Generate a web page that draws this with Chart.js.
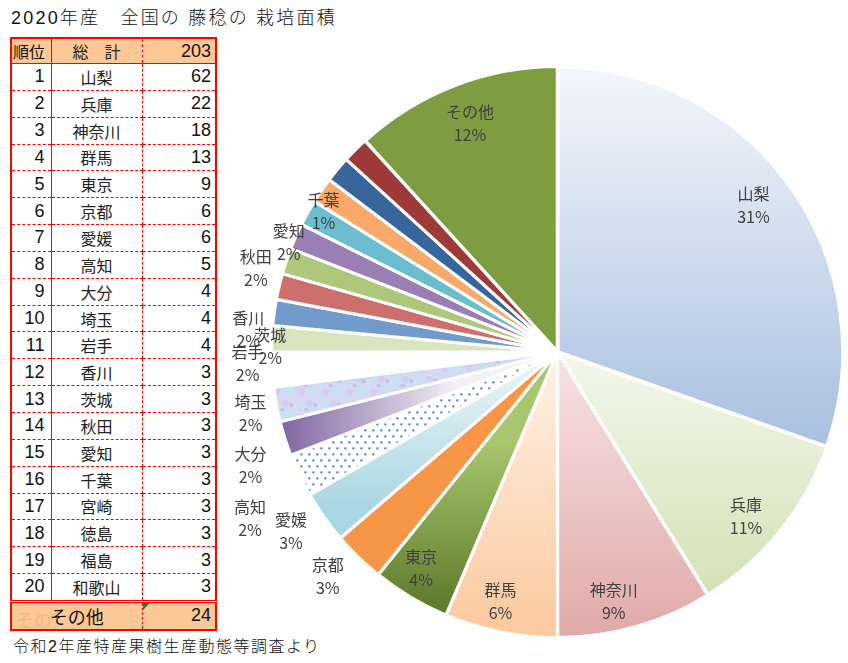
<!DOCTYPE html>
<html>
<head>
<meta charset="utf-8">
<script src="https://cdn.jsdelivr.net/npm/chart.js@4.4.1/dist/chart.umd.min.js"></script>
<style>
  body { margin: 0; background: #fff; width: 848px; height: 663px; overflow: hidden; position: relative;
         font-family: "Liberation Sans", "Noto Sans CJK JP", sans-serif; color: #111; }
  #title { position: absolute; left: 11px; top: 3px; font-size: 18px; letter-spacing: 2.2px; font-weight: 300; }
  #source { position: absolute; left: 13px; top: 633px; font-size: 16px; letter-spacing: 1.5px; font-weight: 300; }
  #tbl { position: absolute; left: 10px; top: 37px; border-collapse: collapse; border: 2px solid #f00; table-layout: fixed; }
  #tbl td { border-bottom: 1px dashed #f00; padding: 0; height: 25.85px; font-size: 16px; white-space: nowrap; overflow: hidden; }
  #tbl td.r { width: 40px; text-align: right; padding-right: 6px; box-sizing: border-box; font-size: 18px; border-right: 1.5px solid #f00; }
  #tbl td.n { width: 90px; text-align: center; border-right: 1px dashed #f00; color: #222; }
  #tbl td.v { width: 74px; text-align: right; padding-right: 4px; box-sizing: border-box; font-size: 18px; }
  #tbl tr.hd td { background: #fcc896; height: 24px; border-bottom: 1.5px solid #f00; }
  #tbl tr.hd td.r { text-align: left; padding-left: 1px; padding-right: 0; font-size: 16px; }
  #tbl tr.ft td { background: #fcc896; height: 24px; border-top: 3px double #f00; border-bottom: none; position: relative; }
  .ghost { position: absolute; left: 4px; top: 3px; color: #f3b584; }
  .tri { position: absolute; left: 0; top: 0; width: 0; height: 0; border-top: 7px solid #1a8a1a; border-right: 7px solid transparent; }
  #wrap { position: absolute; left: 200px; top: 62px; width: 648px; height: 580px; }
</style>
</head>
<body>
<div id="title">2020年産　全国の 藤稔の 栽培面積</div>
<table id="tbl"></table>
<div id="source">令和2年産特産果樹生産動態等調査より</div>
<div id="wrap"><canvas id="pie"></canvas></div>
<script>
const prefectures = ["山梨", "兵庫", "神奈川", "群馬", "東京", "京都", "愛媛", "高知", "大分", "埼玉",
  "岩手", "香川", "茨城", "秋田", "愛知", "千葉", "宮崎", "徳島", "福島", "和歌山"];
const areas = [62, 22, 18, 13, 9, 6, 6, 5, 4, 4, 4, 3, 3, 3, 3, 3, 3, 3, 3, 3];
const otherName = "その他";
const otherArea = 24;
const totalArea = 203;
const pctLabels = ["31%", "11%", "9%", "6%", "4%", "3%", "3%", "2%", "2%", "2%",
  "2%", "2%", "2%", "2%", "2%", "1%", "", "", "", "", "12%"];

// table
const tbl = document.getElementById("tbl");
let html = '<tr class="hd"><td class="r">順位</td><td class="n">総　計</td><td class="v">' + totalArea + '</td></tr>';
prefectures.forEach((p, i) => {
  html += '<tr><td class="r">' + (i + 1) + '</td><td class="n">' + p + '</td><td class="v">' + areas[i] + '</td></tr>';
});
html += '<tr class="ft"><td colspan="2" style="text-align:center;font-size:18px;border-right:1px dashed #f00"><span class="ghost">その</span>' +
  otherName + '</td><td class="v"><span class="tri"></span>' + otherArea + '</td></tr>';
tbl.innerHTML = html;

// slice fills
const fills = [
  { g: [0, -1, 0, 0.35], c: ["#f4f7fc", "#a7bfdf"] },
  { g: [0, 0, 0, 0.85], c: ["#f3f7eb", "#d3e1b6"] },
  { g: [0, 0, 0, 1], c: ["#f6e4e3", "#e0a9a8"] },
  { g: [0, 0, 0, 1], c: ["#fef2e8", "#fbc89c"] },
  { g: [0, 0.3, 0, 0.88], c: ["#a9c76e", "#5f7c2e"] },
  "#f79646",
  { g: [0, 0.1, 0, 0.55], c: ["#e2f1f6", "#a8d6e2"] },
  "dots",
  { g: [-0.97, 0, -0.35, 0], c: ["#7f62a0", "#f3f0f6"] },
  "texture",
  "#ffffff",
  "#d7e4bd", "#729aca", "#cd6f6c", "#aec77a", "#9a7fb4", "#6cbdd0", "#f8a96a", "#38659b", "#9e3a3a",
  "#7e9d40"
];

function makeDots() {
  const c = document.createElement("canvas");
  c.width = 8; c.height = 12;
  const g = c.getContext("2d");
  g.fillStyle = "#fff"; g.fillRect(0, 0, 8, 12);
  g.fillStyle = "#3f74c2";
  g.fillRect(1, 1, 2, 2); g.fillRect(5, 7, 2, 2);
  return c;
}
function makeTexture() {
  const c = document.createElement("canvas");
  c.width = 24; c.height = 24;
  const g = c.getContext("2d");
  g.fillStyle = "#d2daf4"; g.fillRect(0, 0, 24, 24);
  g.fillStyle = "#c3e2f2"; g.fillRect(2, 3, 7, 5); g.fillRect(14, 13, 8, 6);
  g.fillStyle = "#dccbf0"; g.fillRect(11, 2, 6, 6); g.fillRect(3, 15, 6, 7);
  g.fillStyle = "#bcc6ea"; g.fillRect(18, 5, 4, 4); g.fillRect(9, 10, 4, 3);
  return c;
}
const dotCanvas = makeDots();
const texCanvas = makeTexture();

function sliceFill(ctx) {
  const f = fills[ctx.dataIndex];
  const ch = ctx.chart;
  const a = ch.chartArea;
  if (typeof f === "string" && f[0] === "#") return f;
  if (!a) return "#cccccc";
  if (f === "dots") return ch.ctx.createPattern(dotCanvas, "repeat");
  if (f === "texture") return ch.ctx.createPattern(texCanvas, "repeat");
  const cx = (a.left + a.right) / 2, cy = (a.top + a.bottom) / 2, r = Math.min(a.width, a.height) / 2;
  const gr = ch.ctx.createLinearGradient(cx + f.g[0] * r, cy + f.g[1] * r, cx + f.g[2] * r, cy + f.g[3] * r);
  gr.addColorStop(0, f.c[0]);
  gr.addColorStop(1, f.c[1]);
  return gr;
}

// label placement: radius factor and angular shift (deg) from slice middle
const labelFactor = [0.86, 0.88, 0.9, 0.9, 0.9, 1.13, 1.13, 1.23, 1.15, 1.1, 1.09, 1.09, 1.01, 1.1, 1.02, 0.96, 0, 0, 0, 0, 0.86];
const labelShift = [-1.5, 2.3, 3.2, 1.4, 1.3, 1.5, 1.3, -2.9, -2.6, -0.7, 1.5, 1.5, -6.8, 2.2, 3.6, 7.2, 0, 0, 0, 0, 0.2];

const labelPlugin = {
  id: "sliceLabels",
  afterDatasetsDraw(chart) {
    const meta = chart.getDatasetMeta(0);
    const g = chart.ctx;
    g.save();
    g.fillStyle = "#404040";
    g.textAlign = "center";
    g.textBaseline = "middle";
    g.font = '16px "Noto Sans CJK JP", sans-serif';
    meta.data.forEach((arc, i) => {
      if (!pctLabels[i]) return;
      const p = arc.getProps(["x", "y", "startAngle", "endAngle", "outerRadius"], true);
      const ang = (p.startAngle + p.endAngle) / 2 + labelShift[i] * Math.PI / 180;
      const d = p.outerRadius * labelFactor[i];
      const x = p.x + Math.cos(ang) * d, y = p.y + Math.sin(ang) * d;
      g.fillText(chart.data.labels[i], x, y - 11.5);
      g.fillText(pctLabels[i], x, y + 11.5);
    });
    g.restore();
  }
};

new Chart(document.getElementById("pie"), {
  type: "pie",
  data: {
    labels: prefectures.concat([otherName]),
    datasets: [{
      data: areas.concat([otherArea]),
      backgroundColor: sliceFill,
      borderColor: "#ffffff",
      borderWidth: 3,
      offset: 3
    }]
  },
  options: {
    responsive: true,
    maintainAspectRatio: false,
    animation: false,
    layout: { padding: { left: 70, right: 3, top: 0, bottom: 0 } },
    plugins: { legend: { display: false }, tooltip: { enabled: false } }
  },
  plugins: [labelPlugin]
});
</script>
</body>
</html>
